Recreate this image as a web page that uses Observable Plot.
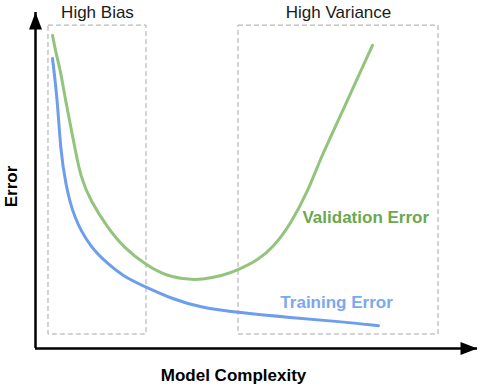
<!DOCTYPE html>
<html>
<head>
<meta charset="utf-8">
<script src="https://cdn.jsdelivr.net/npm/d3@7"></script>
<script src="https://cdn.jsdelivr.net/npm/@observablehq/plot@0.6"></script>
<style>
  html, body { margin: 0; padding: 0; background: #fff; }
  #chart svg { display: block; }
</style>
</head>
<body>
<div id="chart"></div>
<script>
// Model complexity (0–100) and error (0–100)
const validationX = [3.85, 4.75, 5.66, 6.79, 8.6, 10.18, 12.44, 16.29, 19.91, 25.11, 29.86, 35.07, 37.33, 42.53, 45.93, 50.23, 53.85, 57.69, 61.54, 64.48, 66.74, 71.27, 76.24];
const validationY = [93.2, 87.2, 82.7, 73.8, 61.9, 50.9, 44.0, 36.0, 30.1, 24.7, 21.4, 20.5, 20.5, 21.7, 23.5, 26.2, 30.2, 37.0, 46.5, 56.5, 62.8, 75.9, 90.2];

const trainingX = [3.85, 4.98, 5.66, 6.79, 8.6, 12.44, 16.29, 19.91, 25.11, 31.22, 37.33, 45.93, 57.69, 69.0, 77.6];
const trainingY = [86.3, 73.8, 58.9, 49.1, 39.0, 30.1, 25.3, 21.4, 18.2, 14.6, 12.2, 10.7, 9.2, 8.0, 6.8];

const regionNames = ["High Bias", "High Variance"];
const regionX1 = [2.94, 45.93];
const regionX2 = [25.11, 91.18];
const regionY1 = [4.17, 4.17];
const regionY2 = [96.1, 96.1];

const seriesLabels = ["Validation Error", "Training Error"];
const labelX = [60.4, 55.4];
const labelY = [37.5, 12.2];
const labelColors = ["#6aa84f", "#7aa9ef"];

const xTitle = "Model Complexity";
const yTitle = "Error";

const validation = validationX.map((x, i) => ({x, y: validationY[i]}));
const training = trainingX.map((x, i) => ({x, y: trainingY[i]}));
const regions = regionNames.map((name, i) => ({name, x1: regionX1[i], x2: regionX2[i], y1: regionY1[i], y2: regionY2[i]}));
const labels = seriesLabels.map((text, i) => ({text, x: labelX[i], y: labelY[i], color: labelColors[i]}));

const arrowHead = {
  draw(context) {
    context.moveTo(0, 0);
    context.lineTo(6.5, 17);
    context.lineTo(-6.5, 17);
    context.closePath();
  }
};

const font = "Liberation Sans, Arial, Helvetica, sans-serif";

const chart = Plot.plot({
  width: 481,
  height: 386,
  marginLeft: 35,
  marginRight: 4,
  marginTop: 12,
  marginBottom: 38,
  x: {domain: [0, 100], axis: null},
  y: {domain: [0, 100], axis: null},
  style: {fontFamily: font, background: "#fff", overflow: "visible"},
  marks: [
    Plot.rect(regions, {x1: "x1", x2: "x2", y1: "y1", y2: "y2", fill: "none", stroke: "#a8a8a8", strokeWidth: 1, strokeDasharray: "5,3"}),
    Plot.text(regions, {x: d => (d.x1 + d.x2) / 2, y: "y2", text: "name", lineAnchor: "bottom", dy: -8, fontSize: 17, fill: "#1a1a1a"}),
    Plot.line(validation, {x: "x", y: "y", stroke: "#93c47d", strokeWidth: 3, curve: "basis"}),
    Plot.line(training, {x: "x", y: "y", stroke: "#6d9eeb", strokeWidth: 3, curve: "basis"}),
    Plot.text(labels, {x: "x", y: "y", text: "text", fill: "color", textAnchor: "start", lineAnchor: "bottom", fontSize: 17, fontWeight: "bold"}),
    Plot.ruleX([0], {stroke: "#000", strokeWidth: 2.5}),
    Plot.ruleY([0], {stroke: "#000", strokeWidth: 2.5}),
    Plot.dot([{x: 0, y: 100}], {x: "x", y: "y", symbol: arrowHead, fill: "#000", stroke: null, r: 6}),
    Plot.dot([{x: 100, y: 0}], {x: "x", y: "y", symbol: arrowHead, fill: "#000", stroke: null, r: 6, rotate: 90}),
    Plot.text([xTitle], {frameAnchor: "bottom", x: 44.8, text: d => d, lineAnchor: "bottom", dy: 32, fontSize: 17, fontWeight: "bold", fill: "#000"}),
    Plot.text([yTitle], {frameAnchor: "left", y: 48.2, text: d => d, dx: -24, rotate: -90, textAnchor: "middle", lineAnchor: "middle", fontSize: 17, fontWeight: "bold", fill: "#000"})
  ]
});

document.getElementById("chart").appendChild(chart);
</script>
</body>
</html>
